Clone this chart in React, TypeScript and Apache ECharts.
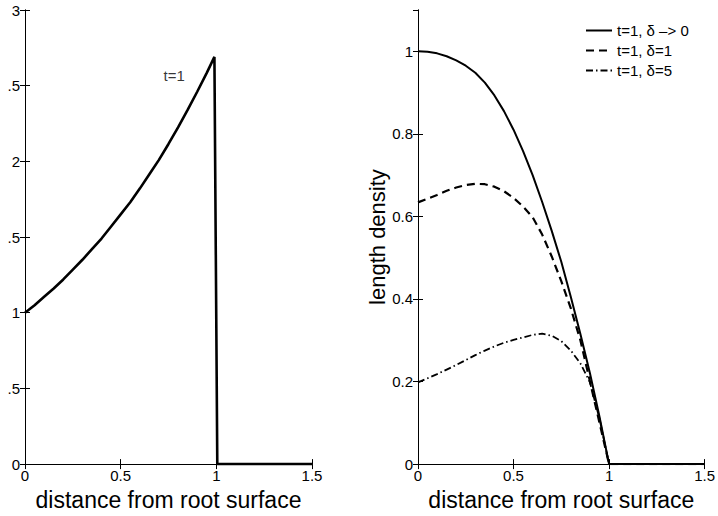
import React, { useEffect, useRef } from "react";
import * as echarts from "echarts";

// Left panel: t=1 profile
const leftX = [0, 0.05, 0.1, 0.15, 0.2, 0.25, 0.3, 0.35, 0.4, 0.45, 0.5, 0.55, 0.6, 0.65, 0.7, 0.75, 0.8, 0.85, 0.9, 0.95, 0.99, 1.005, 1.5];
const leftY = [1.0, 1.05, 1.105, 1.16, 1.22, 1.285, 1.35, 1.42, 1.49, 1.57, 1.65, 1.73, 1.82, 1.915, 2.01, 2.115, 2.225, 2.34, 2.46, 2.585, 2.69, 0, 0];

// Right panel: length density
const rightX = [0, 0.05, 0.1, 0.15, 0.2, 0.25, 0.3, 0.35, 0.4, 0.45, 0.5, 0.55, 0.6, 0.65, 0.7, 0.75, 0.8, 0.85, 0.9, 0.95, 1.0, 1.5];
const solidY = [1.0, 0.999, 0.995, 0.988, 0.978, 0.965, 0.948, 0.924, 0.893, 0.855, 0.81, 0.758, 0.7, 0.635, 0.565, 0.49, 0.405, 0.315, 0.22, 0.115, 0, 0];
const dashedY = [0.634, 0.643, 0.652, 0.662, 0.67, 0.676, 0.679, 0.678, 0.672, 0.661, 0.645, 0.624, 0.598, 0.556, 0.503, 0.443, 0.377, 0.3, 0.2, 0.1, 0, 0];
const dashDotY = [0.198, 0.208, 0.218, 0.229, 0.24, 0.252, 0.264, 0.275, 0.285, 0.294, 0.301, 0.307, 0.313, 0.316, 0.311, 0.298, 0.275, 0.244, 0.198, 0.11, 0, 0];

const seriesNames = ["t=1, δ –> 0", "t=1, δ=1", "t=1, δ=5"];
const annotationText = "t=1";
const annotationPos = [0.78, 2.57];

const xTickLabels = ["0", "0.5", "1", "1.5"];
const leftYTickLabels = ["0", ".5", "1", ".5", "2", ".5", "3"];
const rightYTickLabels = ["0", "0.2", "0.4", "0.6", "0.8", "1"];

const xAxisTitle = "distance from root surface";
const rightYAxisTitle = "length density";

const FONT = "'Liberation Sans', Arial, Helvetica, sans-serif";

const zip = (xs: number[], ys: number[]) => xs.map((x, i) => [x, ys[i]]);

export default function App() {
  const ref = useRef<HTMLDivElement>(null);
  useEffect(() => {
    if (!ref.current) return;
    const chart = echarts.init(ref.current, undefined, { renderer: "svg" });
    const axisLine = { show: true, lineStyle: { color: "#000", width: 1 } };
    const tick = { show: true, inside: true, length: 5, lineStyle: { color: "#000", width: 1 } };
    const labelStyle = { color: "#000", fontSize: 15, fontFamily: FONT };
    const mkX = (grid: number, withLabels: boolean) => ({
      type: "value",
      gridIndex: grid,
      min: 0,
      max: 1.5,
      interval: 0.5,
      position: withLabels ? "bottom" : "top",
      axisLine,
      axisTick: tick,
      splitLine: { show: false },
      axisLabel: withLabels
        ? { ...labelStyle, margin: 4, formatter: (v: number) => xTickLabels[Math.round(v / 0.5)] }
        : { show: false },
      name: withLabels ? xAxisTitle : "",
      nameLocation: "middle",
      nameGap: 20,
      nameTextStyle: { color: "#000", fontSize: 23, fontFamily: FONT },
    });
    chart.setOption({
      animation: false,
      backgroundColor: "#fff",
      color: ["#000"],
      textStyle: { fontFamily: FONT },
      grid: [
        { left: 25, top: 10, width: 287, height: 459 },
        { left: 418, top: 10, width: 288, height: 459 },
      ],
      legend: {
        data: seriesNames,
        orient: "vertical",
        left: 580,
        top: 18,
        itemWidth: 26,
        itemHeight: 14,
        itemGap: 5,
        itemStyle: { opacity: 0 },
        textStyle: { color: "#000", fontSize: 15, fontFamily: FONT },
      },
      xAxis: [mkX(0, true), mkX(0, false), mkX(1, true), mkX(1, false)],
      yAxis: [
        {
          type: "value",
          gridIndex: 0,
          min: 0,
          max: 3,
          interval: 0.5,
          position: "left",
          axisLine,
          axisTick: tick,
          splitLine: { show: false },
          axisLabel: { ...labelStyle, margin: 5, formatter: (v: number) => leftYTickLabels[Math.round(v / 0.5)] },
        },
        {
          type: "value",
          gridIndex: 0,
          min: 0,
          max: 3,
          interval: 0.5,
          position: "right",
          axisLine,
          axisTick: tick,
          splitLine: { show: false },
          axisLabel: { show: false },
        },
        {
          type: "value",
          gridIndex: 1,
          min: 0,
          max: 1.1,
          interval: 0.2,
          position: "left",
          axisLine,
          axisTick: tick,
          splitLine: { show: false },
          axisLabel: {
            ...labelStyle,
            margin: 5,
            showMaxLabel: false,
            formatter: (v: number) => rightYTickLabels[Math.round(v / 0.2)] ?? "",
          },
          name: rightYAxisTitle,
          nameLocation: "middle",
          nameGap: 28,
          nameTextStyle: { color: "#000", fontSize: 22, fontFamily: FONT },
        },
        {
          type: "value",
          gridIndex: 1,
          min: 0,
          max: 1.1,
          interval: 0.2,
          position: "right",
          axisLine,
          axisTick: tick,
          splitLine: { show: false },
          axisLabel: { show: false },
        },
      ],
      series: [
        {
          type: "line",
          xAxisIndex: 0,
          yAxisIndex: 0,
          data: zip(leftX, leftY),
          symbol: "none",
          itemStyle: { color: "#000" },
          lineStyle: { color: "#000", width: 2.6 },
        },
        {
          type: "scatter",
          xAxisIndex: 0,
          yAxisIndex: 0,
          data: [annotationPos],
          symbolSize: 0,
          label: {
            show: true,
            position: "inside",
            formatter: annotationText,
            color: "#000",
            fontSize: 15,
            fontFamily: FONT,
          },
        },
        {
          name: seriesNames[0],
          type: "line",
          xAxisIndex: 2,
          yAxisIndex: 2,
          data: zip(rightX, solidY),
          symbol: "none",
          itemStyle: { color: "#000" },
          lineStyle: { color: "#000", width: 2 },
        },
        {
          name: seriesNames[1],
          type: "line",
          xAxisIndex: 2,
          yAxisIndex: 2,
          data: zip(rightX, dashedY),
          symbol: "none",
          itemStyle: { color: "#000" },
          lineStyle: { color: "#000", width: 2.2, type: [8, 5] },
        },
        {
          name: seriesNames[2],
          type: "line",
          xAxisIndex: 2,
          yAxisIndex: 2,
          data: zip(rightX, dashDotY),
          symbol: "none",
          itemStyle: { color: "#000" },
          lineStyle: { color: "#000", width: 1.8, type: [7, 3, 1.5, 3] },
        },
      ],
    });
    return () => chart.dispose();
  }, []);
  return (
    <div
      ref={ref}
      style={{ position: "absolute", left: 0, top: 0, width: 718, height: 516, background: "#fff" }}
    />
  );
}
